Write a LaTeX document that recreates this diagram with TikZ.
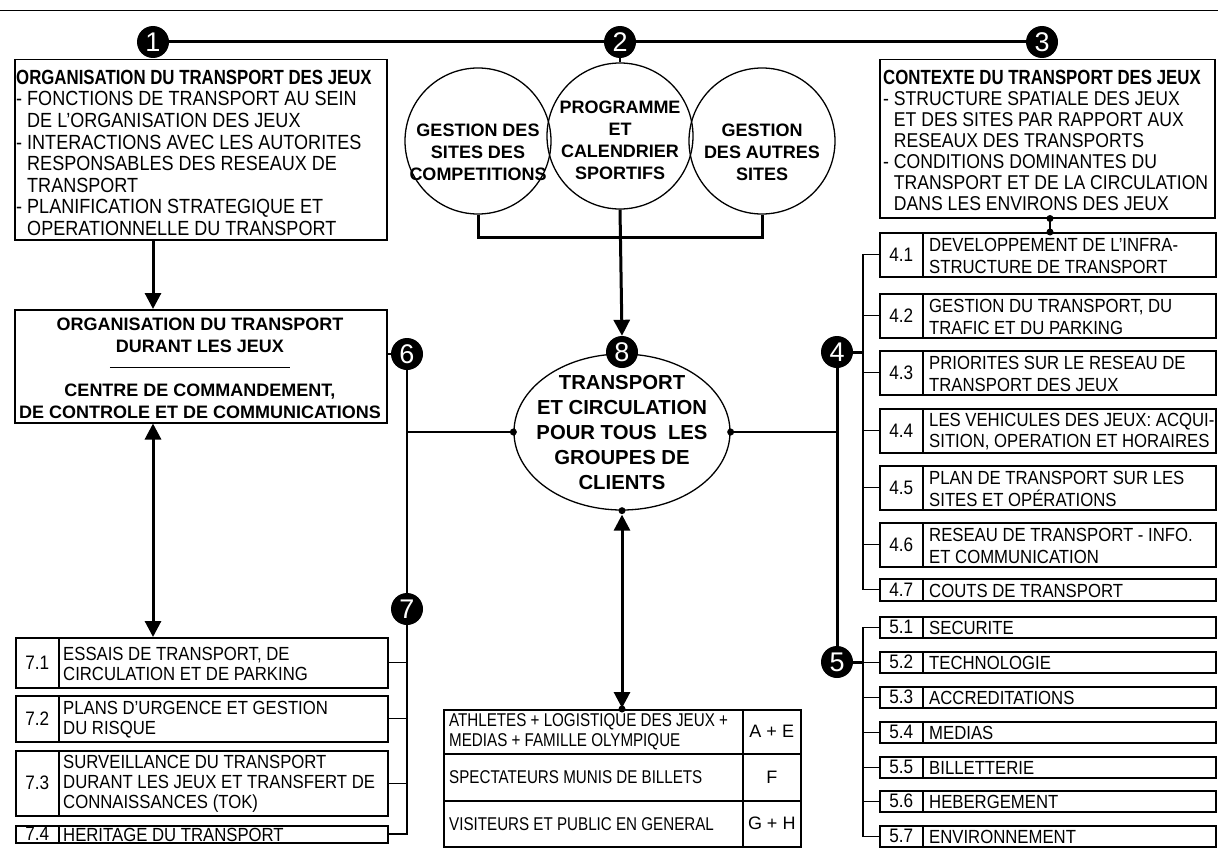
\documentclass[tikz,border=0pt]{standalone}
\usepackage{fontspec}
\setmainfont{Liberation Sans}
\newfontfamily\narrowfam{Liberation Sans}[FakeStretch=0.82]
\newfontfamily\condfam{Liberation Sans}[FakeStretch=0.88]
\usetikzlibrary{arrows.meta,shapes.geometric,calc}
\newcommand\rowR[5]{%
  \node[numcell, minimum width=43pt, minimum height=#4] (n#1) at (879,#3) {#2};
  \node[frame, minimum width=293pt, minimum height=#4] (r#1) at (922,#3) {};
  \node[txt, anchor=west] (t#1) at ($(r#1.west)+(7,1)$) {#5};
}
\newcommand\rowL[5]{%
  \node[numcell, minimum width=43pt, minimum height=#4] (n#1) at (15,#3) {#2};
  \node[frame, minimum width=329pt, minimum height=#4] (r#1) at (58,#3) {};
  \node[txt, anchor=west, font=\condfam\fontsize{19}{20}\selectfont] (t#1) at ($(r#1.west)+(5,1)$) {#5};
}
\begin{document}
\begin{tikzpicture}[x=1pt,y=-1pt,
  frame/.style={draw,line width=1.5pt,inner sep=0pt,anchor=north west},
  numcell/.style={frame,font=\condfam\fontsize{19.5}{20}\selectfont},
  txt/.style={inner sep=0pt,align=left,font=\condfam\fontsize{19}{21.5}\selectfont},
  btxt/.style={inner sep=0pt,align=center,font=\bfseries\fontsize{18}{22}\selectfont},
  ntxt/.style={inner sep=0pt,align=left,font=\narrowfam\fontsize{18.5}{20}\selectfont},
  numc/.style={circle,fill=black,text=white,minimum size=32pt,inner sep=0pt,font=\fontsize{27}{27}\selectfont},
  dot/.style={circle,fill=black,minimum size=7pt,inner sep=0pt},
  bigc/.style={draw,circle,line width=1.3pt,minimum size=146pt,inner sep=0pt},
  thin/.style={line width=1.3pt},
  mid/.style={line width=1.8pt},
  heavy/.style={line width=3pt},
  arr/.style={heavy,-{Triangle[length=16pt,width=16pt]}},
  darr/.style={heavy,{Triangle[length=16pt,width=16pt]}-{Triangle[length=16pt,width=16pt]}},
]
\useasboundingbox (0,0) rectangle (1218,851);

% page rule
\coordinate (rl) at (0,11);
\coordinate (rr) at (1218,11);
\draw[line width=1pt] (rl) -- (rr);

% ---------- box 1
\node[frame, minimum width=372pt, minimum height=180pt] (b1) at (14,59) {};
\node[txt, anchor=west, font=\condfam\fontsize{20.5}{21.6}\selectfont] (b1t) at ($(b1.west)+(2,3)$)
 {{\narrowfam\bfseries\fontsize{20.5}{21.6}\selectfont ORGANISATION DU TRANSPORT DES JEUX}\\
  - FONCTIONS DE TRANSPORT AU SEIN\\
  \hphantom{- }DE L’ORGANISATION DES JEUX\\
  - INTERACTIONS AVEC LES AUTORITES\\
  \hphantom{- }RESPONSABLES DES RESEAUX DE\\
  \hphantom{- }TRANSPORT\\
  - PLANIFICATION STRATEGIQUE ET\\
  \hphantom{- }OPERATIONNELLE DU TRANSPORT};

% ---------- box 3
\node[frame, minimum width=335pt, minimum height=158pt] (b3) at (879,59) {};
\node[txt, anchor=west, font=\condfam\fontsize{20}{21}\selectfont] (b3t) at ($(b3.west)+(4,2)$)
 {{\narrowfam\bfseries\fontsize{20.5}{21}\selectfont CONTEXTE DU TRANSPORT DES JEUX}\\
  - STRUCTURE SPATIALE DES JEUX\\
  \hphantom{- }ET DES SITES PAR RAPPORT AUX\\
  \hphantom{- }RESEAUX DES TRANSPORTS\\
  - CONDITIONS DOMINANTES DU\\
  \hphantom{- }TRANSPORT ET DE LA CIRCULATION\\
  \hphantom{- }DANS LES ENVIRONS DES JEUX};

% ---------- three circles
\node[bigc] (cL) at (478,141) {};
\node[bigc] (cM) at (620,136) {};
\node[bigc] (cR) at (762,141) {};
\node[btxt] (cLt) at (478,152) {GESTION DES\\SITES DES\\COMPETITIONS};
\node[btxt] (cMt) at (620,140) {PROGRAMME\\ET\\CALENDRIER\\SPORTIFS};
\node[btxt] (cRt) at (762,152) {GESTION\\DES AUTRES\\SITES};
\coordinate (jn) at (620,237);

% ---------- box 2
\node[frame, minimum width=372pt, minimum height=113pt] (b2) at (14,309) {};
\node[btxt, font=\bfseries\fontsize{18}{22}\selectfont] (b2t) at (200,368)
 {ORGANISATION DU TRANSPORT\\DURANT LES JEUX\\\rule[6pt]{180pt}{0.8pt}\\CENTRE DE COMMANDEMENT,\\DE CONTROLE ET DE COMMUNICATIONS};

% ---------- ellipse 8
\node[draw, ellipse, line width=1.3pt, minimum width=216pt, minimum height=156pt, inner sep=0pt] (ell) at (622,432) {};
\node[btxt, font=\bfseries\fontsize{20.3}{25}\selectfont] (ellt) at (622,433)
 {TRANSPORT\\ET CIRCULATION\\POUR TOUS\ \ LES\\GROUPES DE\\CLIENTS};

% ---------- table
\node[frame, minimum width=299pt, minimum height=44pt] (g1) at (443,709) {};
\node[frame, minimum width=58pt, minimum height=44pt, font=\fontsize{18}{20}\selectfont] (g1b) at (742,709) {A + E};
\node[frame, minimum width=299pt, minimum height=47pt] (g2) at (443,753) {};
\node[frame, minimum width=58pt, minimum height=47pt, font=\fontsize{18}{20}\selectfont] (g2b) at (742,753) {F};
\node[frame, minimum width=299pt, minimum height=46pt] (g3) at (443,800) {};
\node[frame, minimum width=58pt, minimum height=46pt, font=\fontsize{18}{20}\selectfont] (g3b) at (742,800) {G + H};
\node[ntxt, anchor=west] (g1t) at ($(g1.west)+(6,0)$) {ATHLETES + LOGISTIQUE DES JEUX +\\MEDIAS + FAMILLE OLYMPIQUE};
\node[ntxt, anchor=west] (g2t) at ($(g2.west)+(6,0)$) {SPECTATEURS MUNIS DE BILLETS};
\node[ntxt, anchor=west] (g3t) at ($(g3.west)+(6,0)$) {VISITEURS ET PUBLIC EN GENERAL};

% ---------- right rows
\rowR{41}{4.1}{232}{44pt}{DEVELOPPEMENT DE L’INFRA-\\STRUCTURE DE TRANSPORT}
\rowR{42}{4.2}{293}{44pt}{GESTION DU TRANSPORT, DU\\TRAFIC ET DU PARKING}
\rowR{43}{4.3}{350}{44pt}{PRIORITES SUR LE RESEAU DE\\TRANSPORT DES JEUX}
\rowR{44}{4.4}{408}{44pt}{LES VEHICULES DES JEUX: ACQUI-\\SITION, OPERATION ET HORAIRES}
\rowR{45}{4.5}{465}{44pt}{PLAN DE TRANSPORT SUR LES\\SITES ET OPÉRATIONS}
\rowR{46}{4.6}{522}{44pt}{RESEAU DE TRANSPORT - INFO.\\ET COMMUNICATION}
\rowR{47}{4.7}{578}{22pt}{COUTS DE TRANSPORT}
\rowR{51}{5.1}{616}{21pt}{SECURITE}
\rowR{52}{5.2}{651}{21pt}{TECHNOLOGIE}
\rowR{53}{5.3}{686}{21pt}{ACCREDITATIONS}
\rowR{54}{5.4}{721}{21pt}{MEDIAS}
\rowR{55}{5.5}{756}{21pt}{BILLETTERIE}
\rowR{56}{5.6}{790}{21pt}{HEBERGEMENT}
\rowR{57}{5.7}{825}{21pt}{ENVIRONNEMENT}

% ---------- left rows
\rowL{71}{7.1}{637}{50pt}{ESSAIS DE TRANSPORT, DE\\CIRCULATION ET DE PARKING}
\rowL{72}{7.2}{695}{46pt}{PLANS D’URGENCE ET GESTION\\DU RISQUE}
\rowL{73}{7.3}{750}{65pt}{SURVEILLANCE DU TRANSPORT\\DURANT LES JEUX ET TRANSFERT DE\\CONNAISSANCES (TOK)}
\rowL{74}{7.4}{825}{17pt}{HERITAGE DU TRANSPORT}

% ---------- number circles
\node[numc] (c1) at (153,42) {1};
\node[numc] (c2) at (620,42) {2};
\node[numc] (c3) at (1042,42) {3};
\node[numc] (c4) at (837,352) {4};
\node[numc] (c5) at (837,662) {5};
\node[numc] (c6) at (407,354) {6};
\node[numc] (c7) at (407,609) {7};
\node[numc] (c8) at (622,352) {8};

% ---------- connectors
\draw[heavy] (c1) -- (c2);
\draw[heavy] (c2) -- (c3);
\draw[mid] (c2) -- (cM);
\draw[heavy] (cL.south) -- (cL.south |- jn) -- (cR.south |- jn) -- (cR.south);
\draw[arr] (cM.south) -- (c8.north);

\draw[arr] (b1.south -| c1) -- (b2.north -| c1);
\draw[darr] (b2.south -| c1) -- (r71.north -| c1);

\draw[mid] (b2.east |- c6) -- (c6);
\draw[mid] (c6) -- (c7);
\draw[mid] (c7) -- (c7 |- r74.east) -- (r74.east);
\foreach \k in {71,72,73} \draw[thin] (r\k.east) -- (r\k.east -| c7);

\draw[thin] (ell.west) -- (ell.west -| c6);
\draw[thin] (ell.east) -- (ell.east -| c4);
\draw[darr, shorten <=4pt, shorten >=1pt] (ell.south) -- (ell.south |- g1.north);

\coordinate (br) at (863,0);
\coordinate (k3) at (1050,0);
\draw[heavy] (c4) -- (c5);
\draw[heavy] (c4) -- (c4 -| br);
\draw[heavy] (c5) -- (c5 -| br);
\draw[thin] (n41.west) -- (n41.west -| br) -- (n47.west -| br) -- (n47.west);
\foreach \k in {42,...,46} \draw[thin] (n\k.west) -- (n\k.west -| br);
\draw[thin] (n51.west) -- (n51.west -| br) -- (n57.west -| br) -- (n57.west);
\foreach \k in {52,...,56} \draw[thin] (n\k.west) -- (n\k.west -| br);
\draw[mid] (b3.south -| k3) -- (r41.north -| k3);

% ---------- dots
\node[dot] (d1) at (ell.west) {};
\node[dot] (d2) at (ell.east) {};
\node[dot] (d3) at (ell.south) {};
\node[dot] (d4) at (ell.south |- g1.north) {};
\node[dot] (d5) at (b3.south -| k3) {};
\node[dot] (d6) at (r41.north -| k3) {};
\end{tikzpicture}
\end{document}
